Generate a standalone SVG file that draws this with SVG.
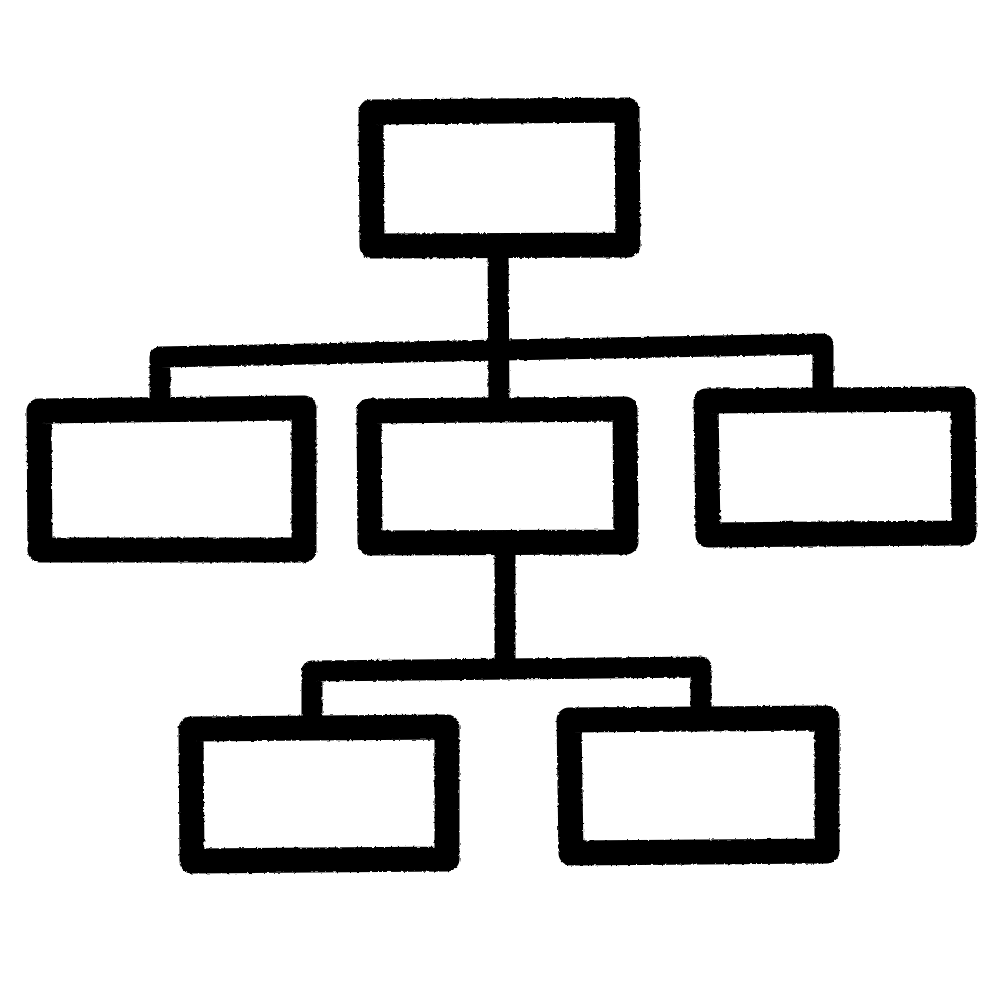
<svg xmlns="http://www.w3.org/2000/svg" width="1000" height="1000" viewBox="0 0 1000 1000">
  <defs>
    <filter id="rough" x="-5%" y="-5%" width="110%" height="110%">
      <feTurbulence type="fractalNoise" baseFrequency="0.3" numOctaves="2" seed="3" result="n"/>
      <feDisplacementMap in="SourceGraphic" in2="n" scale="3" xChannelSelector="R" yChannelSelector="G" result="d"/>
      <feGaussianBlur in="d" stdDeviation="0.7"/>
    </filter>
  </defs>
  <style>
    .box { fill: none; stroke: #050505; stroke-width: 25; stroke-linejoin: round; stroke-linecap: round; }
    .conn { fill: none; stroke: #050505; stroke-width: 21; stroke-linejoin: round; stroke-linecap: round; }
  </style>
  <rect width="1000" height="1000" fill="#ffffff"/>
  <g filter="url(#rough)">
    <g id="connectors">
      <path class="conn" d="M498 245 L499 405"/>
      <path class="conn" d="M160 405 L160 357 L500 350 L823 344 L823 398"/>
      <path class="conn" d="M505 545 L505 668"/>
      <path class="conn" d="M312 724 L312 671 L701 667 L701 716"/>
    </g>
    <g id="node-top">
      <path class="box" d="M371 112 L627 110 L628 245 L372 246 Z"/>
    </g>
    <g id="node-mid-left">
      <path class="box" d="M39 411 L304 408 L304 550 L40 550 Z"/>
    </g>
    <g id="node-mid-center">
      <path class="box" d="M369 411 L625 409 L626 542 L370 543 Z"/>
    </g>
    <g id="node-mid-right">
      <path class="box" d="M706 401 L963 399 L964 533 L708 535 Z"/>
    </g>
    <g id="node-bottom-left">
      <path class="box" d="M191 729 L447 727 L447 859 L192 861 Z"/>
    </g>
    <g id="node-bottom-right">
      <path class="box" d="M569 720 L827 718 L827 851 L571 853 Z"/>
    </g>
  </g>
</svg>
